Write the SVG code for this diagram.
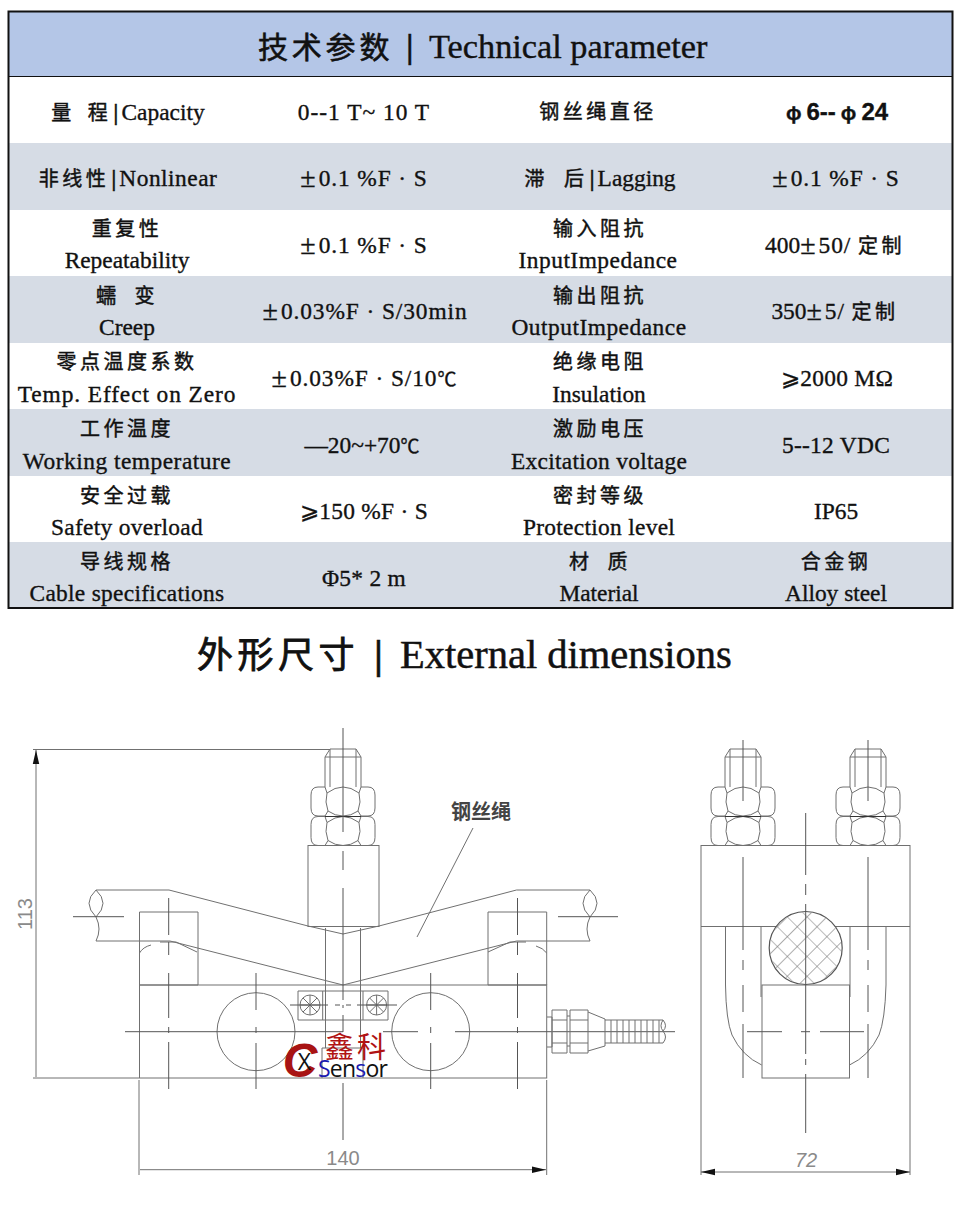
<svg xmlns="http://www.w3.org/2000/svg" xmlns:xlink="http://www.w3.org/1999/xlink" width="960" height="1227" viewBox="0 0 960 1227">
<style>
text{font-family:"Liberation Serif","Noto Sans CJK SC",serif;fill:#111;text-anchor:middle}
.c{font-size:23.4px;stroke:#111;stroke-width:.35}
.z{font-family:"Noto Sans CJK SC","Liberation Serif",serif;font-size:20px;letter-spacing:3.5px;stroke-width:.45}
.b{font-weight:bold;font-family:"Liberation Sans",sans-serif;font-size:24px}
.p{font-size:28px;letter-spacing:3px}
.t{font-family:"Noto Sans CJK SC",serif;font-size:19px}
.s3{letter-spacing:.3px}.s5{letter-spacing:.5px}.s9{letter-spacing:.9px}.s10{letter-spacing:1px}
.d{fill:none;stroke:#707070;stroke-width:1}
.k{fill:none;stroke:#555;stroke-width:1}
.dim{font-family:"Liberation Sans",sans-serif;font-size:20px;fill:#8a8a8a}
</style>
<defs>
<marker id="a" markerUnits="userSpaceOnUse" markerWidth="14" markerHeight="8" refX="14" refY="4" orient="auto-start-reverse"><path d="M14 4L0 .8V7.200z" fill="#111"/></marker>
<pattern id="h" patternUnits="userSpaceOnUse" width="14" height="14" patternTransform="rotate(45 805 948)"><path d="M0 0H14M0 0V14" stroke="#777" stroke-width="1.200" fill="none"/></pattern>
<clipPath id="cc"><circle cx="805.7" cy="948" r="36"/></clipPath>
<g id="nut" class="d"><path d="M-16 6Q-8 0 0 0Q8 0 16 6L17 15L15 24Q8 29 0 29Q-8 29-15 24L-17 15Z"/><path d="M-16 6L-18 0H-25Q-32 0-32 8V21Q-32 29-25 29H-18L-15 24M16 6L18 0H25Q32 0 32 8V21Q32 29 25 29H18L15 24"/></g>
<g id="thread" class="d"><path d="M-18 38V8L-13 0H13L18 8V38M-13 0V38M13 0V38M-18 8H18"/></g>
<g id="wheel" class="d"><circle r="10"/><path d="M-10 0H10M0-10V10M-7-7L7 7M-7 7L7-7"/></g>
</defs>
<g id="table">
<rect x="8" y="11" width="945" height="597" fill="#fff"/>
<rect x="9" y="12" width="943" height="64" fill="#b4c6e7"/>
<g fill="#d6dce5"><rect x="9" y="143" width="943" height="67"/><rect x="9" y="276" width="943" height="67"/><rect x="9" y="409" width="943" height="67"/><rect x="9" y="542" width="943" height="66"/></g>
<path d="M9 76.500H952" stroke="#111" stroke-width="1"/>
<rect x="8.500" y="11.500" width="944" height="596.500" fill="none" stroke="#111" stroke-width="2"/>
<text x="258" y="58" style="text-anchor:start;font-size:34.300px;stroke:#111;stroke-width:.4"><tspan style="font-size:30px;letter-spacing:3.800px;font-family:'Noto Sans CJK SC';stroke-width:.6">技术参数</tspan><tspan x="406" style="font-weight:bold">|</tspan><tspan x="429">Technical parameter</tspan></text>

<g id="r1" class="c"><text x="128" y="120"><tspan class="z">量<tspan dx="13">程</tspan></tspan><tspan dx="2" font-weight="bold">|</tspan><tspan dx="3">Capacity</tspan></text><text x="364" y="120" class="s10">0--1 T~ 10 T</text><text x="598" y="119" class="z">钢丝绳直径</text><text x="837" y="120" class="b"><tspan class="t">φ</tspan><tspan dx="5">6--</tspan><tspan class="t" dx="5">φ</tspan><tspan dx="5">24</tspan></text></g>
<g id="r2" class="c"><text x="128" y="186"><tspan class="z">非线性</tspan><tspan dx="2" font-weight="bold">|</tspan><tspan dx="3" class="s5">Nonlinear</tspan></text><text x="364" y="186"><tspan class="p" dy="1">±</tspan><tspan dy="-1" class="s9">0.1 %F · S</tspan></text><text x="600" y="186"><tspan class="z">滞<tspan dx="16">后</tspan></tspan><tspan dx="2" font-weight="bold">|</tspan><tspan dx="3">Lagging</tspan></text><text x="836" y="186"><tspan class="p" dy="1">±</tspan><tspan dy="-1" class="s9">0.1 %F · S</tspan></text></g>
<g id="r3" class="c"><text x="127" y="236" class="z">重复性</text><text x="127" y="268">Repeatability</text><text x="364" y="253"><tspan class="p" dy="1">±</tspan><tspan dy="-1" class="s9">0.1 %F · S</tspan></text><text x="600" y="236" class="z">输入阻抗</text><text x="598" y="268" class="s5">InputImpedance</text><text x="835" y="253">400<tspan class="p" dy="1">±</tspan><tspan dy="-1" class="s9">50/ </tspan><tspan class="z">定制</tspan></text></g>
<g id="r4" class="c"><text x="127" y="303" class="z">蠕<tspan dx="15">变</tspan></text><text x="127" y="335">Creep</text><text x="365" y="319"><tspan class="p" dy="1">±</tspan><tspan dy="-1" class="s9">0.03%F · S/30min</tspan></text><text x="600" y="303" class="z">输出阻抗</text><text x="599" y="335" class="s5">OutputImpedance</text><text x="835" y="319">350<tspan class="p" dy="1">±</tspan><tspan dy="-1" class="s9">5/ </tspan><tspan class="z">定制</tspan></text></g>
<g id="r5" class="c"><text x="127" y="369" class="z">零点温度系数</text><text x="127" y="402" class="s9">Temp. Effect on Zero</text><text x="364" y="386"><tspan class="p" dy="1">±</tspan><tspan dy="-1" class="s9">0.03%F · S/10</tspan><tspan class="t">℃</tspan></text><text x="600" y="369" class="z">绝缘电阻</text><text x="599" y="402">Insulation</text><text x="837" y="386" class="s3">⩾2000 MΩ</text></g>
<g id="r6" class="c"><text x="127" y="436" class="z">工作温度</text><text x="127" y="469" class="s5">Working temperature</text><text x="362" y="453">—20~+70<tspan class="t">℃</tspan></text><text x="600" y="436" class="z">激励电压</text><text x="599" y="469" class="s3">Excitation voltage</text><text x="836" y="453" class="s3">5--12 VDC</text></g>
<g id="r7" class="c"><text x="127" y="503" class="z">安全过载</text><text x="127" y="535" class="s3">Safety overload</text><text x="364" y="519" class="s3">⩾150 %F · S</text><text x="600" y="503" class="z">密封等级</text><text x="599" y="535" class="s3">Protection level</text><text x="836" y="519">IP65</text></g>
<g id="r8" class="c"><text x="127" y="569" class="z">导线规格</text><text x="127" y="601" class="s3">Cable specifications</text><text x="364" y="586" class="s3">Φ5* 2 m</text><text x="600" y="569" class="z">材<tspan dx="15">质</tspan></text><text x="599" y="601">Material</text><text x="836" y="569" class="z">合金钢</text><text x="836" y="601">Alloy steel</text></g>
</g>
<text id="title2" x="197" y="668" style="text-anchor:start;font-size:40.500px;stroke:#111;stroke-width:.5"><tspan style="font-size:36px;letter-spacing:4.500px;font-family:'Noto Sans CJK SC';stroke-width:.8">外形尺寸</tspan><tspan x="374" style="font-weight:bold">|</tspan><tspan x="400">External dimensions</tspan></text>

<g id="front-view" class="d">
<path d="M33 749.500H330M33 1078H139M139 1080V1175M546.700 1080V1175"/>
<path d="M36 750V1077M140 1169.700H546" marker-start="url(#a)" marker-end="url(#a)"/>
<use xlink:href="#thread" x="343" y="749"/>
<use xlink:href="#nut" x="343" y="787"/><use xlink:href="#nut" x="343" y="816.500"/>
<path d="M325 816.500H361" stroke="#333"/>
<rect x="308" y="845.500" width="71" height="81"/>
<path d="M325.500 928V1048M360.500 928V1048"/>
<path d="M96 890H169L308 926L343 934L379 926L516.500 890H590"/>
<path d="M96 941H170L343 985L516.500 941H590"/>
<path d="M96 890Q82 903 96 917Q110 903 96 890M96 917Q102 929 96 941M590 890Q576 903 590 917Q604 903 590 890M590 917Q584 929 590 941"/>
<path d="M139.500 912H198V985H139.500ZM488 912H546.700V985H488Z"/>
<path d="M139.500 953Q143 947 151 945M160 942L176 942L197 952M488 952L510 942L526 942M536 946Q543 948 546.700 953"/>
<rect x="139.500" y="985" width="407.200" height="93"/>
<circle cx="256" cy="1031.700" r="39"/><circle cx="430.700" cy="1031.700" r="39"/>
<path d="M298 991H388V1020H298ZM322.700 991V1020M363 991V1020"/>
<use xlink:href="#wheel" x="310" y="1005"/><use xlink:href="#wheel" x="376.600" y="1005"/>
<path d="M322 1078V1048H363V1078"/>
<path d="M417 937L473 828"/>
<path class="k" d="M73 916.700H124M558 916.700H618M125 1031.700H343M383 1031.700H418M455 1031.700H675M290 1005H328M335 1005H340M346 1005H351M357 1005H397"/>
<path class="k" d="M168.700 898V1089M517.500 898V1089" stroke-dasharray="37 7 13 18 45 9 6 9 47"/>
<path class="k" d="M256 973V1089M430.700 973V1089" stroke-dasharray="37 17 6 10 46"/>
<path class="k" d="M343 728V832M343 851V870M343 888V1000M343 1005V1008M343 1015V1032M343 1083V1140"/>
<path d="M552 1010H567V1053H552ZM552 1020H567M552 1043H567M570 1010H588V1053H570ZM570 1020H588M570 1043H588M547 1017H552V1047H547M567 1016H570M567 1046H570M588 1012L605 1019V1046L588 1051M605 1020H663M605 1043H663M663 1020Q668 1026 663 1031Q668 1037 663 1043M663 1020Q659 1026 663 1031"/>
<path d="M611 1020V1043M617 1020V1043M623 1020V1043M629 1020V1043M635 1020V1043M641 1020V1043M647 1020V1043M653 1020V1043M659 1020V1043"/>
</g>
<text class="dim" transform="translate(32 914) rotate(-90)">113</text>
<text class="dim" x="343" y="1165">140</text>
<text id="rope-label" x="481" y="819" style="font-family:'Noto Sans CJK SC';font-size:20px;font-weight:bold;fill:#444">钢丝绳</text>

<g id="side-view" class="d">
<use xlink:href="#thread" x="743" y="749"/><use xlink:href="#thread" x="868" y="749"/>
<use xlink:href="#nut" x="743" y="787"/><use xlink:href="#nut" x="743" y="816.500"/>
<use xlink:href="#nut" x="868" y="787"/><use xlink:href="#nut" x="868" y="816.500"/>
<path d="M725 816.500H761M850 816.500H886" stroke="#333"/>
<rect x="701" y="845.500" width="209" height="81"/>
<path d="M701 927V1175M910 927V1175"/>
<path d="M701 1172H910" marker-start="url(#a)" marker-end="url(#a)"/>
<path d="M725.500 927V985Q726 1020 732 1035Q742 1056 761.700 1065M886 927V985Q885 1020 879 1035Q869 1056 849.500 1065"/>
<path d="M761 927V997M850 927V997"/>
<rect x="762" y="985" width="87.500" height="93"/>
<circle cx="805.700" cy="948" r="36.500" fill="#fff" stroke="#555" stroke-width="1.200"/>
<g clip-path="url(#cc)"><rect x="765" y="908" width="82" height="80" fill="url(#h)" stroke="none"/></g>
<path class="k" d="M805.700 813V1133" stroke-dasharray="62 9 11 9 150 5 6 9 60"/>
<path class="k" d="M743 740V801M743 857V950M743 960V970M743 985V1012M743 1024V1078M868 740V801M868 857V950M868 960V970M868 985V1012M868 1024V1078"/>
<path class="k" d="M747 1031.700H782M801 1031.700H810M820 1031.700H864"/>
</g>
<text class="dim" x="806" y="1167" font-style="italic">72</text>

<g id="logo">
<text x="300" y="1077" style="font-family:'Liberation Sans';font-size:48px;font-weight:bold;font-style:italic;fill:#a81313">C</text>
<text x="304.500" y="1070" style="font-family:'Open Sans';font-size:23px;fill:#111">X</text>
<text x="318" y="1077" style="font-family:'Open Sans';font-size:23px;letter-spacing:-.8px;fill:#111;text-anchor:start"><tspan style="fill:#1a1ab0">S</tspan>en<tspan style="fill:#1a1ab0">s</tspan>or</text>
<text x="357" y="1058" style="font-family:'Noto Sans CJK SC';font-size:29px;letter-spacing:3px;fill:#b01313">鑫科</text>
</g>
</svg>
